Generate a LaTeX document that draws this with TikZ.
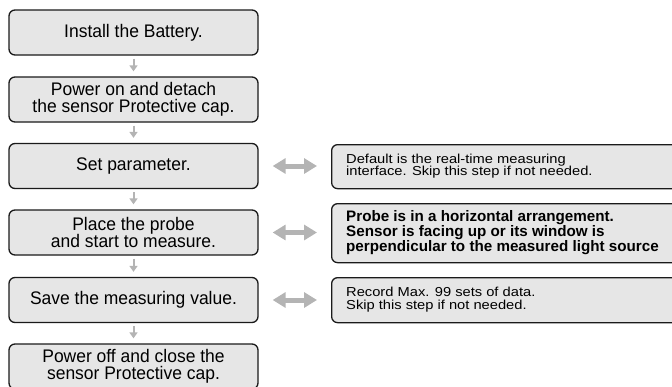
\documentclass[tikz,border=0pt]{standalone}
\usepackage{fontspec}
\setmainfont{Liberation Sans}
\newfontfamily\leftfont[FakeStretch=0.96]{Liberation Sans}
\newfontfamily\rightfont[FakeStretch=1.13]{Liberation Sans}
\usetikzlibrary{arrows.meta}
\definecolor{boxfill}{HTML}{E6E6E6}
\definecolor{boxline}{HTML}{1A1A1A}
\definecolor{arrgray}{HTML}{B4B4B4}
\tikzset{
  stepbox/.style={draw=boxline, fill=boxfill, line width=1.3pt, rounded corners=6pt,
    minimum width=249pt, minimum height=45pt, inner sep=0pt, align=center,
    font=\leftfont\fontsize{18.2}{16.7}\selectfont},
  notebox/.style={draw=boxline, fill=boxfill, line width=1.3pt, rounded corners=6pt,
    minimum width=360pt, inner sep=0pt, anchor=north west},
  notetext/.style={anchor=west, align=left, inner sep=0pt,
    font=\rightfont\fontsize{13}{12.7}\selectfont},
  boldtext/.style={anchor=west, align=left, inner sep=0pt,
    font=\bfseries\fontsize{15.2}{13.3}\selectfont},
  downarr/.style={draw=arrgray, line width=2pt, -{Triangle[width=8pt,length=6pt]},
    shorten <=3pt, shorten >=5pt},
  duoarr/.style={draw=arrgray, line width=5pt,
    {Triangle[width=15pt,length=13pt]}-{Triangle[width=15pt,length=13pt]},
    shorten <=14pt, shorten >=14pt}
}
\begin{document}
\begin{tikzpicture}[x=1pt,y=-1pt]
\useasboundingbox (0,0) rectangle (672,386);
\begin{scope}
\clip (0,0) rectangle (672,386);
\node[stepbox] (b1) at (133.5,32.5) {Install the Battery.};
\node[stepbox] (b2) at (133.5,99.5) {Power on and detach\\the sensor Protective cap.};
\node[stepbox] (b3) at (133.5,166) {Set parameter.};
\node[stepbox] (b4) at (133.5,232.5) {Place the probe\\and start to measure.};
\node[stepbox] (b5) at (133.5,300) {Save the measuring value.};
\node[stepbox] (b6) at (133.5,366.5) {Power off and close the\\sensor Protective cap.};

\node[notebox, minimum height=44pt] (r1) at (331,144) {};
\node[notebox, minimum height=59pt] (r2) at (331,203) {};
\node[notebox, minimum height=45pt] (r3) at (331,277) {};

\node[notetext] (t1) at (346,166) {Default is the real-time measuring\\interface. Skip this step if not needed.};
\node[boldtext] (t2) at (346,232.5) {Probe is in a horizontal arrangement.\\Sensor is facing up or its window is\\perpendicular to the measured light source};
\node[notetext] (t3) at (346,299.5) {Record Max. 99 sets of data.\\Skip this step if not needed.};

\draw[downarr] (b1) -- (b2);
\draw[downarr] (b2) -- (b3);
\draw[downarr] (b3) -- (b4);
\draw[downarr] (b4) -- (b5);
\draw[downarr] (b5) -- (b6);

\draw[duoarr] (b3.east) -- (b3.east -| r1.west);
\draw[duoarr] (b4.east) -- (b4.east -| r2.west);
\draw[duoarr] (b5.east) -- (b5.east -| r3.west);
\end{scope}
\end{tikzpicture}
\end{document}
